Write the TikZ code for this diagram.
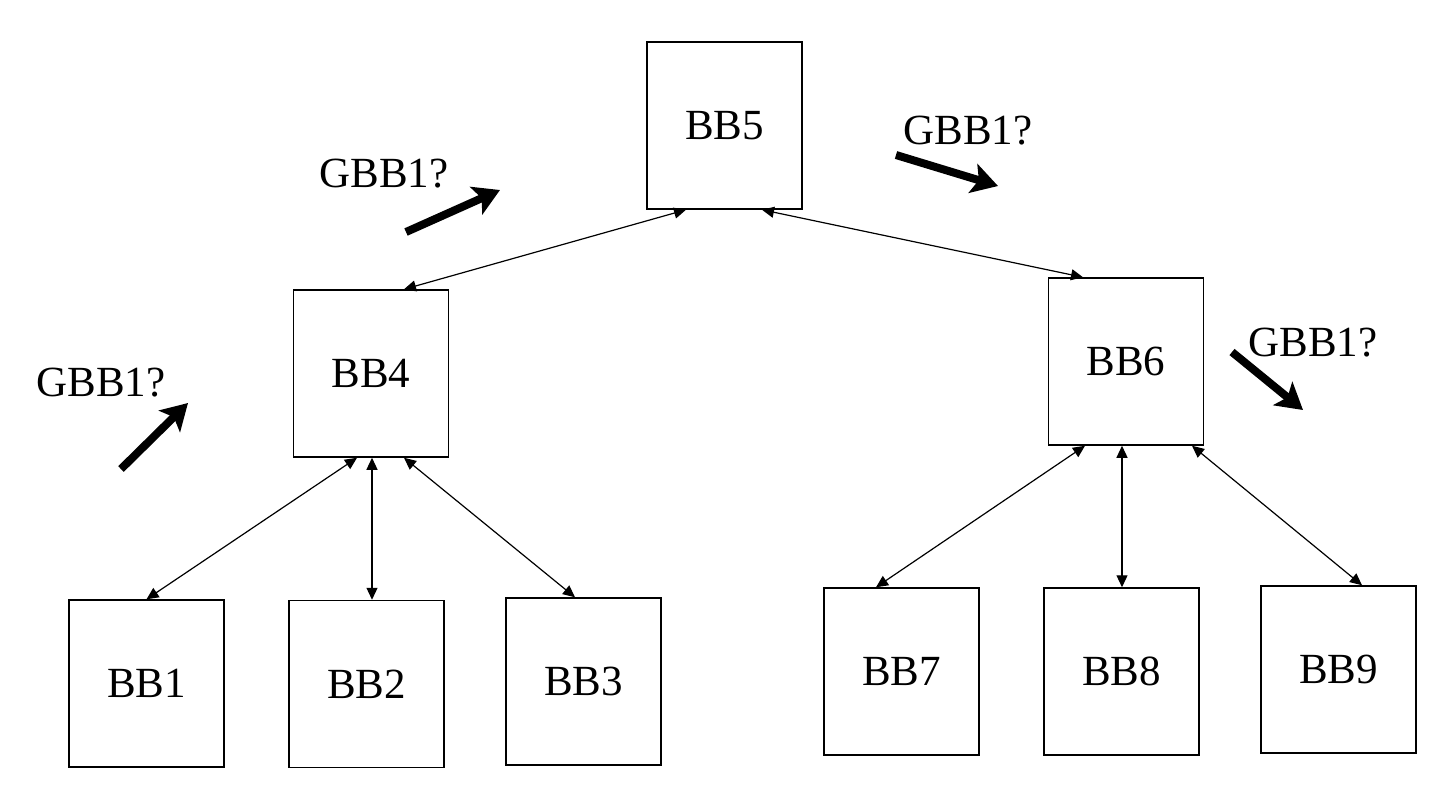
\documentclass[tikz,border=0pt]{standalone}
\usepackage{fontspec}
\setmainfont{Liberation Serif}
\usetikzlibrary{arrows.meta}

\tikzset{
  bbbox/.style={draw, line width=0.75pt, minimum width=77.5pt, minimum height=83.5pt, inner sep=0pt, font=\fontsize{21.5}{26}\selectfont},
  link/.style={line width=0.6pt, {Triangle[length=6pt,width=5.5pt]}-{Triangle[length=6pt,width=5.5pt]}},
  guess/.style={line width=4pt, -{Stealth[length=13pt,width=15pt,inset=3pt]}},
  guesslabel/.style={inner sep=0pt, font=\fontsize{21.5}{26}\selectfont}
}

\begin{document}
\begin{tikzpicture}[line cap=butt,line join=miter,x=0.5pt,y=-0.5pt]
\useasboundingbox (0,0) rectangle (1454,784);
% blocks
\node [bbbox] (bb5) at (724.5,125.5) {BB5};
\node [bbbox] (bb4) at (371,373.5) {BB4};
\node [bbbox] (bb6) at (1126,361.5) {BB6};
\node [bbbox] (bb1) at (146.5,683.5) {BB1};
\node [bbbox] (bb2) at (366.5,684) {BB2};
\node [bbbox] (bb3) at (583.5,681.5) {BB3};
\node [bbbox] (bb7) at (901.5,671.5) {BB7};
\node [bbbox] (bb8) at (1121.5,671.5) {BB8};
\node [bbbox] (bb9) at (1338.5,669.5) {BB9};
% links
\draw [link] ([xshift=-19.25pt]bb5.south) -- ([xshift=16.5pt]bb4.north);
\draw [link] ([xshift=18.75pt]bb5.south) -- ([xshift=-21.5pt]bb6.north);
\draw [link] ([xshift=-7pt]bb4.south) -- (bb1.north);
\draw [link] ([xshift=0.5pt]bb4.south) -- ([xshift=2.75pt]bb2.north);
\draw [link] ([xshift=16.5pt]bb4.south) -- ([xshift=-4.25pt]bb3.north);
\draw [link] ([xshift=-20.5pt]bb6.south) -- ([xshift=-12.75pt]bb7.north);
\draw [link] ([xshift=-2pt]bb6.south) -- ([xshift=0.25pt]bb8.north);
\draw [link] ([xshift=33pt]bb6.south) -- ([xshift=11.75pt]bb9.north);
% guesses
\node [guesslabel] (q1) at (384,174) {GBB1?};
\node [guesslabel] (q2) at (968,131) {GBB1?};
\node [guesslabel] (q3) at (101,383) {GBB1?};
\node [guesslabel] (q4) at (1313,343) {GBB1?};
\draw [guess] (406,232) -- (500,190);
\draw [guess] (896,155) -- (998,186);
\draw [guess] (121,469) -- (188,403);
\draw [guess] (1232,352) -- (1303,410);
\end{tikzpicture}
\end{document}
